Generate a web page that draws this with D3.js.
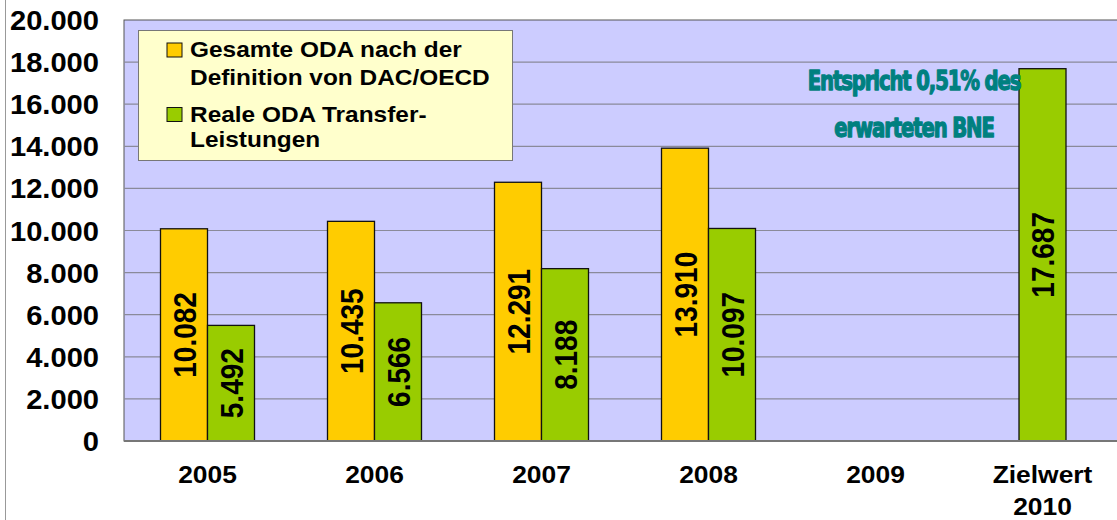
<!DOCTYPE html>
<html>
<head>
<meta charset="utf-8">
<script src="https://cdn.jsdelivr.net/npm/d3@7"></script>
<style>
  body { margin: 0; background: #fff; }
  svg { display: block; font-family: "Liberation Sans", Arial, sans-serif; }
</style>
</head>
<body>
<svg id="chart"></svg>
<script>
const categories = ["2005", "2006", "2007", "2008", "2009", "Zielwert 2010"];
const gesamtODA = [10082, 10435, 12291, 13910, null, null];
const realeODA = [5492, 6566, 8188, 10097, null, 17687];
const seriesNames = ["Gesamte ODA nach der Definition von DAC/OECD", "Reale ODA Transfer-Leistungen"];
const yTicks = [0, 2000, 4000, 6000, 8000, 10000, 12000, 14000, 16000, 18000, 20000];

const width = 1117, height = 520;
const plot = { left: 124, top: 20, right: 1126, bottom: 441 };

const svg = d3.select("#chart").attr("width", width).attr("height", height);

const fmt = v => d3.format(",")(v).replace(/,/g, ".");

// text that is a bit wider than the font (the original is stretched sideways)
function stext(parent, x, y, str, size, sx, anchor) {
  return parent.append("text")
    .attr("transform", `translate(${x},${y}) scale(${sx},1)`)
    .attr("text-anchor", anchor || "start")
    .attr("font-size", size).attr("font-weight", "bold")
    .text(str);
}

// frame line on the left
svg.append("line")
  .attr("x1", 5.5).attr("x2", 5.5).attr("y1", 0).attr("y2", height)
  .attr("stroke", "#999").attr("stroke-width", 1);

const x = d3.scaleBand().domain(categories).range([plot.left, plot.right]);
const x1 = d3.scaleBand().domain([0, 1]).range([0, 94]);
const y = d3.scaleLinear().domain([0, 20000]).range([plot.bottom, plot.top]);

svg.append("rect")
  .attr("x", plot.left).attr("y", plot.top)
  .attr("width", plot.right - plot.left).attr("height", plot.bottom - plot.top)
  .attr("fill", "#ccccff").attr("stroke", "#555").attr("stroke-width", 1);

svg.append("g").selectAll("line")
  .data(yTicks.filter(d => d > 0 && d < 20000))
  .enter().append("line")
    .attr("x1", plot.left).attr("x2", plot.right)
    .attr("y1", d => y(d)).attr("y2", d => y(d))
    .attr("stroke", "#8a8a9a").attr("stroke-width", 1.2);

// y axis labels
yTicks.forEach(d => stext(svg, 99, y(d) + 10, d === 0 ? "0" : fmt(d), 28, 1.04, "end"));

const colors = ["#ffcc00", "#99cc00"];
const series = [gesamtODA, realeODA];

categories.forEach((c, i) => {
  series.forEach((s, j) => {
    const v = s[i];
    if (v == null) return;
    let bx = x(c) + (x.bandwidth() - 94) / 2 + x1(j);
    if (gesamtODA[i] == null) bx = x(c) + (x.bandwidth() - 47) / 2;
    svg.append("rect")
      .attr("x", bx).attr("y", y(v))
      .attr("width", x1.bandwidth()).attr("height", y(0) - y(v))
      .attr("fill", colors[j]).attr("stroke", "#111").attr("stroke-width", 1.3);
    const cx = bx + x1.bandwidth() / 2, cy = (y(v) + y(0)) / 2;
    svg.append("text")
      .attr("transform", `translate(${cx},${cy}) scale(1.15,1) rotate(-90)`)
      .attr("text-anchor", "middle")
      .attr("dy", "0.36em")
      .attr("font-size", 28).attr("font-weight", "bold")
      .text(fmt(v));
  });
});

// baseline
svg.append("line")
  .attr("x1", plot.left).attr("x2", plot.right)
  .attr("y1", y(0)).attr("y2", y(0))
  .attr("stroke", "#777").attr("stroke-width", 2);

// x labels
categories.forEach(c => {
  const lines = c === "Zielwert 2010" ? ["Zielwert", "2010"] : [c];
  const cx = x(c) + x.bandwidth() / 2;
  lines.forEach((l, k) => stext(svg, cx, 483 + k * 32, l, 24, 1.1, "middle"));
});

// legend
const lg = svg.append("g");
lg.append("rect")
  .attr("x", 138.5).attr("y", 30.5).attr("width", 374).attr("height", 130)
  .attr("fill", "#ffffcc").attr("stroke", "#777").attr("stroke-width", 1);
const legendLines = [["Gesamte ODA nach der", "Definition von DAC/OECD"], ["Reale ODA Transfer-", "Leistungen"]];
const legendBase = [[57, 85], [121.5, 147]];
legendLines.forEach((ls, j) => {
  lg.append("rect")
    .attr("x", 167).attr("y", legendBase[j][0] - 14).attr("width", 15).attr("height", 14)
    .attr("fill", colors[j]).attr("stroke", "#111").attr("stroke-width", 1);
  ls.forEach((l, k) => stext(lg, 190, legendBase[j][k], l, 22, 1.11));
});

// annotation
const note = ["Entspricht 0,51% des", "erwarteten BNE"];
note.forEach((l, k) => {
  svg.append("text")
    .attr("transform", `translate(914,${90 + k * 47}) scale(0.81,1)`)
    .attr("text-anchor", "middle")
    .attr("font-family", "'DejaVu Sans Condensed', 'DejaVu Sans', sans-serif")
    .attr("font-size", 27).attr("font-weight", "bold")
    .attr("letter-spacing", -1.4)
    .attr("fill", "#008080").attr("stroke", "#008080").attr("stroke-width", 1.3)
    .attr("stroke-linejoin", "round")
    .text(l);
});
</script>
</body>
</html>
